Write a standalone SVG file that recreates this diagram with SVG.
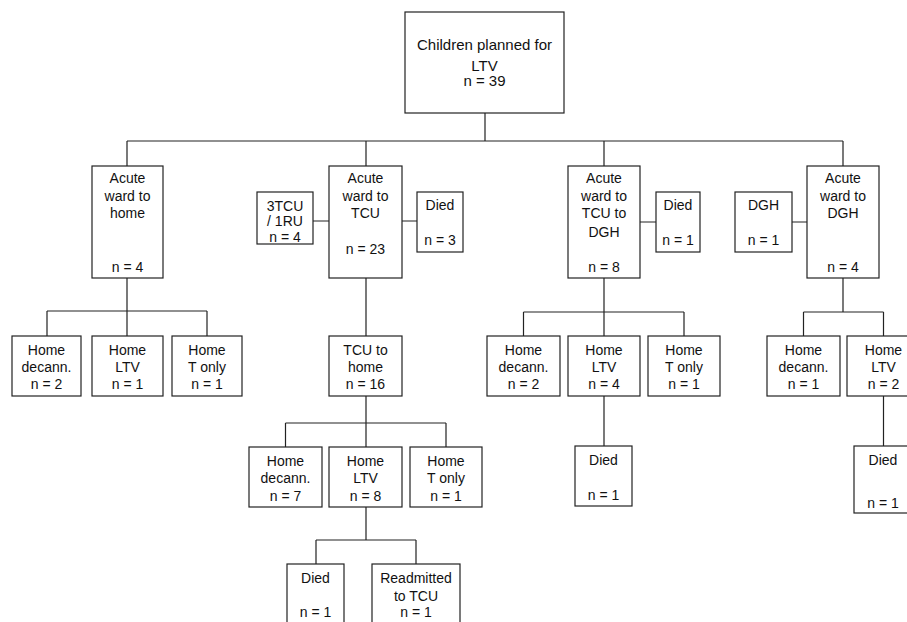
<svg xmlns="http://www.w3.org/2000/svg" width="907" height="622" viewBox="0 0 907 622">
<style>
rect{fill:#fff;stroke:#222;stroke-width:1.2}
.c path{fill:none;stroke:#222;stroke-width:1.2}
text{font-family:"Liberation Sans",Arial,sans-serif;font-size:14px;fill:#111;text-anchor:middle}
.big{font-size:15px}
</style>
<rect x="0" y="0" width="907" height="622" style="stroke:none"/>
<g class="c" id="connectors">
<path d="M485 113V141M127 141H843M127 141V166M366 141V166M604 141V166M843 141V166"/>
<path d="M313 221H329M402 221H417M640 222H656M792 222H807"/>
<path d="M127 278V311M47 311H207M47 311V336M127 311V336M207 311V336"/>
<path d="M366 278V336M366 396V423M285.5 423H446M285.5 423V447M366 423V447M446 423V447"/>
<path d="M366 507V540M316 540H416M316 540V564M416 540V564"/>
<path d="M604 278V312M523.5 312H684M523.5 312V336M604 312V336M684 312V336M604 396V446"/>
<path d="M843 278V312M803.5 312H883.5M803.5 312V336M883.5 312V336M883.5 396V446"/>
</g>
<g id="root"><rect x="405" y="12" width="159" height="101"/><text class="big" x="484.5" y="49.5">Children planned for</text><text class="big" x="484.5" y="70.5">LTV</text><text class="big" x="484.5" y="86">n = 39</text></g>
<g id="acute-home"><rect x="92" y="166" width="71" height="112"/><text x="127.5" y="183">Acute</text><text x="127.5" y="201">ward to</text><text x="127.5" y="218">home</text><text x="127.5" y="272">n = 4</text></g>
<g id="tcu-ru"><rect x="257" y="192" width="56" height="52"/><text x="285" y="211">3TCU</text><text x="285" y="226">/ 1RU</text><text x="285" y="242">n = 4</text></g>
<g id="acute-tcu"><rect x="329" y="166" width="73" height="112"/><text x="365.5" y="183">Acute</text><text x="365.5" y="201">ward to</text><text x="365.5" y="218">TCU</text><text x="365.5" y="254">n = 23</text></g>
<g id="died-a"><rect x="417" y="192" width="46" height="60"/><text x="440" y="210">Died</text><text x="440" y="245">n = 3</text></g>
<g id="acute-tcu-dgh"><rect x="568" y="166" width="72" height="112"/><text x="604" y="183">Acute</text><text x="604" y="201">ward to</text><text x="604" y="218">TCU to</text><text x="604" y="237">DGH</text><text x="604" y="272">n = 8</text></g>
<g id="died-b"><rect x="656" y="192" width="44" height="60"/><text x="678" y="210">Died</text><text x="678" y="245">n = 1</text></g>
<g id="dgh"><rect x="735" y="192" width="57" height="60"/><text x="763.5" y="210">DGH</text><text x="763.5" y="245">n = 1</text></g>
<g id="acute-dgh"><rect x="807" y="166" width="72" height="112"/><text x="843" y="183">Acute</text><text x="843" y="201">ward to</text><text x="843" y="218">DGH</text><text x="843" y="272">n = 4</text></g>
<g id="l-decann"><rect x="12" y="336" width="69" height="60"/><text x="46.5" y="355">Home</text><text x="46.5" y="372">decann.</text><text x="46.5" y="389">n = 2</text></g>
<g id="l-ltv"><rect x="92" y="336" width="71" height="60"/><text x="127.5" y="355">Home</text><text x="127.5" y="372">LTV</text><text x="127.5" y="389">n = 1</text></g>
<g id="l-tonly"><rect x="172" y="336" width="70" height="60"/><text x="207" y="355">Home</text><text x="207" y="372">T only</text><text x="207" y="389">n = 1</text></g>
<g id="tcu-home"><rect x="329" y="336" width="73" height="60"/><text x="365.5" y="355">TCU to</text><text x="365.5" y="372">home</text><text x="365.5" y="389">n = 16</text></g>
<g id="m-decann"><rect x="249" y="447" width="73" height="60"/><text x="285.5" y="466">Home</text><text x="285.5" y="483">decann.</text><text x="285.5" y="501">n = 7</text></g>
<g id="m-ltv"><rect x="329" y="447" width="73" height="60"/><text x="365.5" y="466">Home</text><text x="365.5" y="483">LTV</text><text x="365.5" y="501">n = 8</text></g>
<g id="m-tonly"><rect x="410" y="447" width="72" height="60"/><text x="446" y="466">Home</text><text x="446" y="483">T only</text><text x="446" y="501">n = 1</text></g>
<g id="m-died"><rect x="287" y="564" width="57" height="80"/><text x="315.5" y="583">Died</text><text x="315.5" y="617">n = 1</text></g>
<g id="m-readm"><rect x="372" y="564" width="88" height="80"/><text x="416" y="583">Readmitted</text><text x="416" y="601">to TCU</text><text x="416" y="617">n = 1</text></g>
<g id="r-decann"><rect x="487" y="336" width="73" height="60"/><text x="523.5" y="355">Home</text><text x="523.5" y="372">decann.</text><text x="523.5" y="389">n = 2</text></g>
<g id="r-ltv"><rect x="568" y="336" width="72" height="60"/><text x="604" y="355">Home</text><text x="604" y="372">LTV</text><text x="604" y="389">n = 4</text></g>
<g id="r-tonly"><rect x="648" y="336" width="72" height="60"/><text x="684" y="355">Home</text><text x="684" y="372">T only</text><text x="684" y="389">n = 1</text></g>
<g id="r-died"><rect x="575" y="446" width="57" height="60"/><text x="603.5" y="465">Died</text><text x="603.5" y="500">n = 1</text></g>
<g id="d-decann"><rect x="767" y="336" width="73" height="60"/><text x="803.5" y="355">Home</text><text x="803.5" y="372">decann.</text><text x="803.5" y="389">n = 1</text></g>
<g id="d-ltv"><rect x="847" y="336" width="73" height="60"/><text x="883.5" y="355">Home</text><text x="883.5" y="372">LTV</text><text x="883.5" y="389">n = 2</text></g>
<g id="d-died"><rect x="854" y="446" width="58" height="67"/><text x="883" y="465">Died</text><text x="883" y="508">n = 1</text></g>
</svg>
